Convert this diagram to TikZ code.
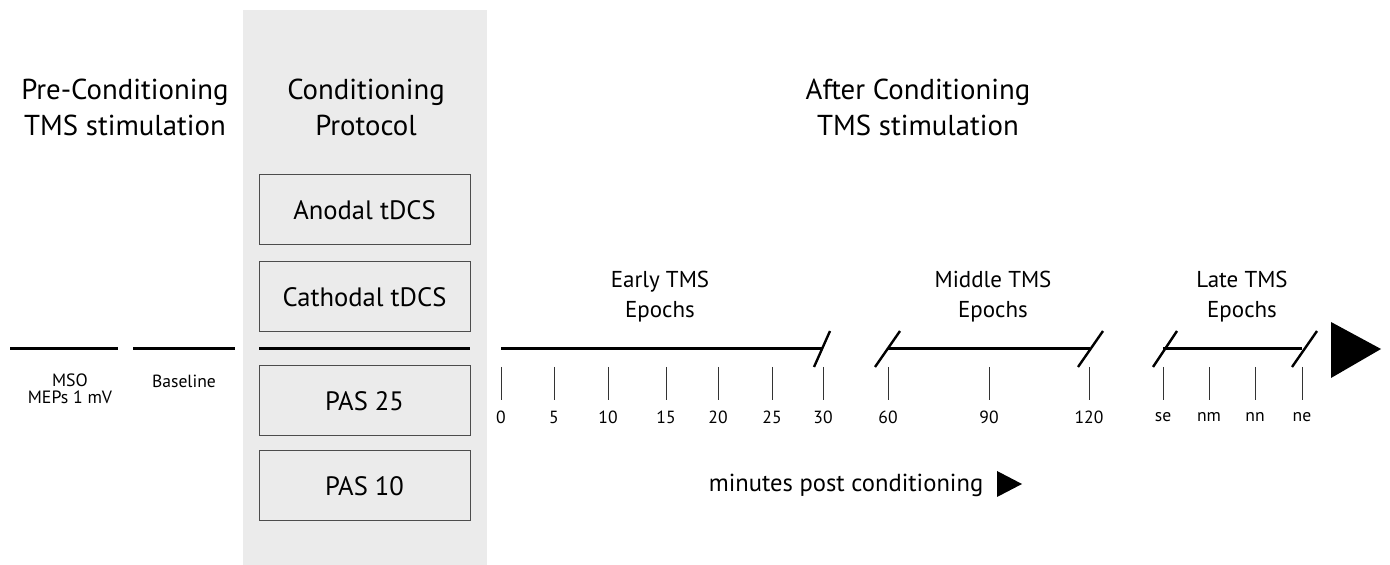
\documentclass[tikz,border=0pt]{standalone}
\usepackage{fontspec}
\setmainfont{PT Sans}
\usetikzlibrary{positioning}
\begin{document}
\begin{tikzpicture}[x=0.5pt,y=-0.5pt]
  \tikzset{protbox/.style={draw=black!70, line width=0.5pt, minimum width=105.5pt, minimum height=35pt, inner sep=0pt, font=\fontsize{13.3}{14}\selectfont}};
  \tikzset{title/.style={align=center, font=\fontsize{14.4}{18}\selectfont}};
  \tikzset{epoch/.style={align=center, font=\fontsize{11.5}{15}\selectfont}};
  \tikzset{ticklab/.style={font=\fontsize{8.8}{8.5}\selectfont}};
  \tikzset{timeline/.style={line width=1.5pt}};
  \tikzset{mytick/.style={line width=0.5pt, black!80}};
  \tikzset{brk/.style={line width=1.2pt}};

  \useasboundingbox (0,0) rectangle (1390,565);
  \fill[black!8] (243,10) rectangle (487,565);

  % titles
  \node[title] (pre) at (125,107) {Pre-Conditioning\\TMS stimulation};
  \node[title] (cond) at (366,107) {Conditioning\\Protocol};
  \node[title] (after) at (918,107) {After Conditioning\\TMS stimulation};

  % protocol boxes
  \node[protbox] (anodal) at (364.5,210) {Anodal tDCS};
  \node[protbox, below=8pt of anodal] (cathodal) {Cathodal tDCS};
  \node[protbox] (pas25) at (364.5,401) {PAS 25};
  \node[protbox, below=7pt of pas25] (pas10) {PAS 10};
  \coordinate (sepl) at (259,349);  \coordinate (sepr) at (470,349);
  \draw[timeline] (sepl) -- (sepr);

  % pre-conditioning
  \coordinate (msol) at (10,349);  \coordinate (msor) at (118,349);
  \coordinate (basel) at (133,349);  \coordinate (baser) at (235,349);
  \draw[timeline] (msol) -- (msor);
  \draw[timeline] (basel) -- (baser);
  \node[ticklab, align=center, font=\fontsize{8.9}{8.5}\selectfont] (mso) at (70,389) {MSO\\MEPs 1 mV};
  \node[ticklab] (baseline) at (184,381) {Baseline};

  % early epochs
  \coordinate (earlyl) at (501,349);  \coordinate (earlyr) at (823,349);
  \draw[timeline] (earlyl) -- (earlyr);
  \draw[brk] (814,367) -- (830,331);
  \node[epoch] (early) at (660,297) {Early TMS\\Epochs};
  \foreach \x/\l in {501/0,554/5,608/10,666/15,718/20,772/25,823/30}{
    \draw[mytick] (\x,367) -- (\x,400);
    \node[ticklab] (t\l) at (\x,417) {\l};
  }

  % middle epochs
  \coordinate (midl) at (888,349);  \coordinate (midr) at (1090,349);
  \draw[timeline] (midl) -- (midr);
  \draw[brk] (875,367) -- (900,331);
  \draw[brk] (1078,367) -- (1103,331);
  \node[epoch] (middle) at (993,297) {Middle TMS\\Epochs};
  \foreach \x/\l in {888/60,989/90,1089/120}{
    \draw[mytick] (\x,367) -- (\x,400);
    \node[ticklab] (t\l) at (\x,417) {\l};
  }

  % late epochs
  \coordinate (latel) at (1163,349);  \coordinate (later) at (1302,349);
  \draw[timeline] (latel) -- (later);
  \draw[brk] (1153,367) -- (1177,331);
  \draw[brk] (1292,367) -- (1317,331);
  \node[epoch] (late) at (1242,297) {Late TMS\\Epochs};
  \foreach \x/\l in {1163/se,1209/nm,1255/nn,1302/ne}{
    \draw[mytick] (\x,367) -- (\x,400);
    \node[ticklab] (t\l) at (\x,417) {\l};
  }
  \fill (1331,322) -- (1381,349) -- (1331,378) -- cycle;

  % time axis note
  \node[font=\fontsize{12.3}{14}\selectfont] (minutes) at (846,485) {minutes post conditioning};
  \fill (997,471) -- (1022,484) -- (997,497) -- cycle;
\end{tikzpicture}
\end{document}
